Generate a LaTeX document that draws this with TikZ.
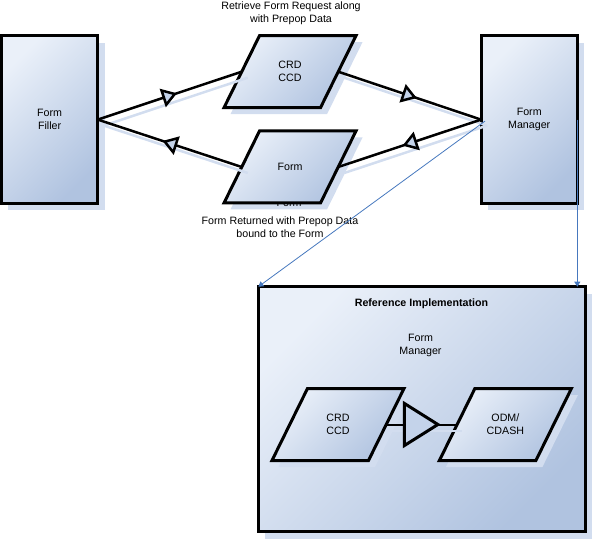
\documentclass[tikz,border=0pt]{standalone}
\usepackage{fontspec}
\setmainfont{Liberation Sans}
\usetikzlibrary{arrows.meta,decorations.markings,shadows}
\definecolor{cLight}{RGB}{234,240,249}
\definecolor{cDark}{RGB}{176,195,224}
\definecolor{shadowc}{RGB}{210,221,239}
\definecolor{cTri}{RGB}{196,211,234}
\definecolor{cBlue}{RGB}{70,120,190}
\newcommand\paral[3]{\path[#3] (#1-66,#2+36) -- (#1+30.5,#2+36) -- (#1+66,#2-36) -- (#1-30.5,#2-36) -- cycle;}
\begin{document}
\begin{tikzpicture}[x=1pt,y=-1pt,font=\fontsize{10.67}{13}\selectfont,
  box/.style={rectangle, draw=black, line width=3pt, top color=cLight, bottom color=cDark, shading angle=45,
    inner sep=0pt, outer sep=0pt, align=center,
    drop shadow={shadow xshift=7pt, shadow yshift=-7pt, fill=shadowc, opacity=1}},
  parashadow/.style={fill=shadowc},
  parafill/.style={draw=black, line width=3pt, top color=cLight, bottom color=cDark, shading angle=45},
  paranode/.style={rectangle, minimum width=96.5pt, minimum height=72pt, inner sep=0pt, outer sep=0pt, align=center},
  txt/.style={align=center, inner sep=0pt},
  conn/.style={draw=black, line width=2.5pt,
    preaction={draw=shadowc, line width=2.5pt, transform canvas={shift={(6pt,-6pt)}}},
    preaction={color=shadowc, transform canvas={shift={(6pt,-6pt)}}, decorate,
      decoration={markings, mark=at position 0.55 with {\arrow{Triangle[length=15pt,width=19pt,line width=2.5pt,fill=shadowc]}}}},
    postaction={decorate,
      decoration={markings, mark=at position 0.55 with {\arrow{Triangle[length=15pt,width=19pt,line width=2.5pt,fill=cTri]}}}}},
  innerconn/.style={draw=black, line width=2pt,
    preaction={draw=shadowc, line width=2pt, transform canvas={shift={(5pt,-6pt)}}},
    postaction={decorate,
      decoration={markings, mark=at position 54.5pt with {\arrow{Triangle[length=38pt,width=47pt,line width=3pt,fill=cTri]}}}}},
  blueline/.style={draw=cBlue, line width=0.8pt, -{Triangle[length=5pt,width=6pt]}}
]
\useasboundingbox (0,0) rectangle (592,540);

% main boxes
\node[box, minimum width=96.3pt, minimum height=167.8pt] (filler) at (49.6,119.6) {Form\\Filler};
\node[box, minimum width=96.3pt, minimum height=167.8pt] (mgr) at (529.2,119.6) {Form\\Manager};
\node[box, minimum width=326.7pt, minimum height=245pt] (ref) at (421.7,409.2) {};

% parallelograms
\paral{290+6.5}{71.7+6.5}{parashadow}
\paral{290}{71.7}{parafill}
\node[paranode] (crd) at (290,71.7) {CRD\\CCD};

\paral{290+6.5}{167+6.5}{parashadow}
\node[txt, anchor=base] (formhid) at (289,206.7) {Form};
\paral{290}{167}{parafill}
\node[paranode] (form) at (290,167) {Form};

\paral{338+6.5}{424.5+6.5}{parashadow}
\paral{338}{424.5}{parafill}
\node[paranode] (crd2) at (338,424.5) {CRD\\CCD};

\paral{505.4+6.5}{424.5+6.5}{parashadow}
\paral{505.4}{424.5}{parafill}
\node[paranode] (odm) at (505.4,424.5) {ODM/\\CDASH};

% labels
\node[txt] (toplbl) at (291,13.4) {Retrieve Form Request along\\with Prepop Data};
\node[txt] (botlbl) at (280,226.7) {Form Returned with Prepop Data\\bound to the Form};
\node[txt, font=\fontsize{10.67}{13}\selectfont\bfseries] (reftitle) at (421.5,303.3) {Reference Implementation};
\node[txt] (refmgr) at (420.5,345.7) {Form\\Manager};

% connectors
\draw[conn] (filler.east) -- (crd.west);
\draw[conn] (crd.east) -- (mgr.west);
\draw[conn] (mgr.west) -- (form.east);
\draw[conn] (form.west) -- (filler.east);
\draw[innerconn] (crd2.east) -- (odm.west);

% blue connectors
\draw[blueline] ([xshift=4pt,yshift=-1.5pt]mgr.west) -- (ref.north west);
\draw[blueline] (mgr.east) -- (mgr.east |- ref.north);
\end{tikzpicture}
\end{document}
